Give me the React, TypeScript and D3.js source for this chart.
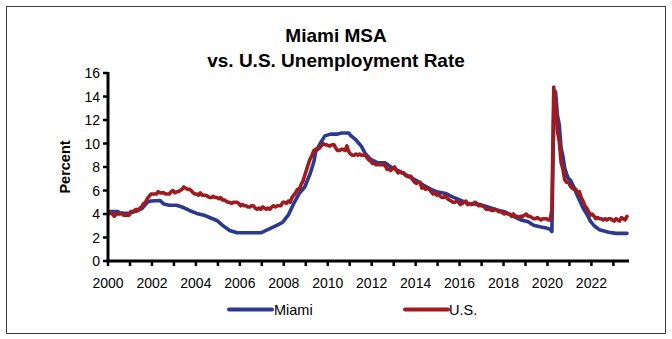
import React from 'react';
import * as d3 from 'd3';

const W = 672;
const H = 339;

const titleLines = ['Miami MSA', 'vs. U.S. Unemployment Rate'];
const yAxisTitle = 'Percent';
const yTickValues = [0, 2, 4, 6, 8, 10, 12, 14, 16];
const xLabelYears = [2000, 2002, 2004, 2006, 2008, 2010, 2012, 2014, 2016, 2018, 2020, 2022];
const seriesNames = ['Miami', 'U.S.'];
const seriesColors = ['#2b3990', '#9e1b20'];

// U.S. monthly rate, Jan 2000 .. Aug 2023
const usRates = [
  4.0, 4.1, 4.0, 3.8, 4.0, 4.0, 4.0, 4.1, 3.9, 3.9, 3.9, 3.9,
  4.2, 4.2, 4.3, 4.4, 4.3, 4.5, 4.6, 4.9, 5.0, 5.3, 5.5, 5.7,
  5.7, 5.7, 5.7, 5.9, 5.8, 5.8, 5.8, 5.7, 5.7, 5.7, 5.9, 6.0,
  5.8, 5.9, 5.9, 6.0, 6.1, 6.3, 6.2, 6.1, 6.1, 6.0, 5.8, 5.7,
  5.7, 5.6, 5.8, 5.6, 5.6, 5.6, 5.5, 5.4, 5.4, 5.5, 5.4, 5.4,
  5.3, 5.4, 5.2, 5.2, 5.1, 5.0, 5.0, 4.9, 5.0, 5.0, 5.0, 4.9,
  4.7, 4.8, 4.7, 4.7, 4.6, 4.6, 4.7, 4.7, 4.5, 4.4, 4.5, 4.4,
  4.6, 4.5, 4.4, 4.5, 4.4, 4.6, 4.7, 4.6, 4.7, 4.7, 4.7, 5.0,
  5.0, 4.9, 5.1, 5.0, 5.4, 5.6, 5.8, 6.1, 6.1, 6.5, 6.8, 7.3,
  7.8, 8.3, 8.7, 9.0, 9.4, 9.5, 9.5, 9.6, 9.8, 10.0, 9.9, 9.9,
  9.8, 9.8, 9.9, 9.9, 9.6, 9.4, 9.4, 9.5, 9.5, 9.4, 9.8, 9.3,
  9.1, 9.0, 9.0, 9.1, 9.0, 9.1, 9.0, 9.0, 9.0, 8.8, 8.6, 8.5,
  8.3, 8.3, 8.2, 8.2, 8.2, 8.2, 8.2, 8.1, 7.8, 7.8, 7.7, 7.9,
  8.0, 7.7, 7.5, 7.6, 7.5, 7.5, 7.3, 7.2, 7.2, 7.2, 6.9, 6.7,
  6.6, 6.7, 6.7, 6.2, 6.3, 6.1, 6.2, 6.1, 5.9, 5.7, 5.8, 5.6,
  5.7, 5.5, 5.4, 5.4, 5.6, 5.3, 5.2, 5.1, 5.0, 5.0, 5.1, 5.0,
  4.8, 4.9, 5.0, 5.1, 4.8, 4.9, 4.8, 4.9, 5.0, 4.9, 4.7, 4.7,
  4.7, 4.6, 4.4, 4.4, 4.4, 4.3, 4.3, 4.4, 4.3, 4.2, 4.2, 4.1,
  4.0, 4.1, 4.0, 4.0, 3.8, 4.0, 3.8, 3.8, 3.7, 3.8, 3.8, 3.9,
  4.0, 3.8, 3.8, 3.7, 3.6, 3.6, 3.7, 3.6, 3.5, 3.6, 3.6, 3.6,
  3.5, 3.5, 4.4, 14.8, 13.2, 11.0, 10.2, 8.4, 7.8, 6.9, 6.7, 6.7,
  6.4, 6.2, 6.1, 6.1, 5.8, 5.9, 5.4, 5.1, 4.7, 4.5, 4.2, 3.9,
  4.0, 3.8, 3.6, 3.7, 3.6, 3.6, 3.5, 3.6, 3.5, 3.6, 3.6, 3.5,
  3.4, 3.6, 3.5, 3.4, 3.7, 3.6, 3.5, 3.8,
];

// Miami MSA rate
const miamiPoints: [string, number][] = [
  ['2000-01', 4.2], ['2000-06', 4.2], ['2000-07', 4.05], ['2000-12', 4.05],
  ['2001-01', 4.1], ['2001-05', 4.3], ['2001-07', 4.45], ['2001-10', 5.0],
  ['2001-12', 5.1], ['2002-05', 5.15], ['2002-07', 4.85], ['2002-10', 4.75],
  ['2003-02', 4.75], ['2003-05', 4.6], ['2003-09', 4.3], ['2004-01', 4.05],
  ['2004-05', 3.9], ['2004-08', 3.7], ['2004-12', 3.45], ['2005-03', 3.05],
  ['2005-07', 2.6], ['2005-11', 2.4], ['2006-12', 2.4], ['2007-02', 2.55],
  ['2007-05', 2.75], ['2007-09', 3.05], ['2007-12', 3.3], ['2008-03', 3.9],
  ['2008-06', 4.9], ['2008-09', 5.75], ['2008-12', 6.3], ['2009-03', 7.45],
  ['2009-05', 8.45], ['2009-06', 9.3], ['2009-09', 10.15], ['2009-11', 10.65],
  ['2010-02', 10.8], ['2010-06', 10.8], ['2010-08', 10.9], ['2010-12', 10.9],
  ['2011-01', 10.7], ['2011-04', 10.3], ['2011-07', 9.75], ['2011-09', 9.15],
  ['2011-12', 8.65], ['2012-04', 8.35], ['2012-08', 8.35], ['2012-11', 8.0],
  ['2013-03', 7.7], ['2013-06', 7.45], ['2013-10', 7.1], ['2014-02', 6.75],
  ['2014-05', 6.45], ['2014-09', 6.1], ['2014-12', 5.9], ['2015-05', 5.75],
  ['2015-08', 5.5], ['2015-12', 5.25], ['2016-05', 4.9], ['2016-12', 4.8],
  ['2017-04', 4.6], ['2017-09', 4.35], ['2018-01', 4.2], ['2018-06', 3.8],
  ['2018-10', 3.5], ['2019-02', 3.35], ['2019-05', 3.05], ['2019-09', 2.9],
  ['2019-12', 2.8], ['2020-02', 2.7], ['2020-03', 2.5], ['2020-04', 12.8],
  ['2020-05', 14.4], ['2020-06', 12.4], ['2020-07', 11.6], ['2020-08', 9.6],
  ['2020-09', 8.9], ['2020-10', 7.9], ['2020-11', 7.4], ['2020-12', 7.0],
  ['2021-01', 6.9], ['2021-03', 6.3], ['2021-04', 5.9], ['2021-06', 5.2],
  ['2021-08', 4.5], ['2021-10', 4.0], ['2021-12', 3.4], ['2022-02', 3.0],
  ['2022-05', 2.65], ['2022-10', 2.45], ['2023-02', 2.35], ['2023-08', 2.35],
];

type Pt = { date: Date; value: number };

const FONT = '"Liberation Sans", Arial, Helvetica, sans-serif';

export default function App() {
  const x = d3
    .scaleTime()
    .domain([new Date(2000, 0, 1), new Date(2023, 8, 1)])
    .range([108, 628]);
  const y = d3.scaleLinear().domain([0, 16]).range([261, 73]);

  const parse = d3.timeParse('%Y-%m');
  const start = new Date(2000, 0, 1);
  const usData: Pt[] = usRates.map((v, i) => ({
    date: d3.timeDay.offset(d3.timeMonth.offset(start, i), 14),
    value: v,
  }));
  const miamiData: Pt[] = miamiPoints.map(([d, v]) => ({
    date: d3.timeDay.offset(parse(d) as Date, 14),
    value: v,
  }));

  const line = d3
    .line<Pt>()
    .x((d) => x(d.date))
    .y((d) => y(d.value));

  const yearTicks = d3.timeYear.range(new Date(2000, 0, 1), new Date(2024, 0, 1));
  const [x0, x1] = x.range();
  const [y0, y1] = y.range();

  const legendItems = [
    { name: seriesNames[0], color: seriesColors[0], lx: 229, tx: 274 },
    { name: seriesNames[1], color: seriesColors[1], lx: 405, tx: 449 },
  ];

  return (
    <svg
      width={W}
      height={H}
      style={{ position: 'absolute', left: 0, top: 0, background: '#fff' }}
      fontFamily={FONT}
    >
      <rect x={0} y={0} width={W} height={H} fill="#fff" />
      <rect x={6.5} y={6.5} width={659} height={327} fill="none" stroke="#3a3a3a" strokeWidth={1} />

      {titleLines.map((t, i) => (
        <text
          key={t}
          x={336}
          y={42 + i * 25}
          textAnchor="middle"
          fontSize={19}
          fontWeight="bold"
          fill="#000"
        >
          {t}
        </text>
      ))}

      {/* y axis title */}
      <text
        transform={`translate(70,${(y0 + y1) / 2}) rotate(-90)`}
        textAnchor="middle"
        fontSize={14.5}
        fontWeight="bold"
      >
        {yAxisTitle}
      </text>

      {/* y ticks & labels */}
      {yTickValues.map((v) => (
        <g key={v}>
          <line x1={x0 - 5} x2={x0} y1={y(v)} y2={y(v)} stroke="#000" strokeWidth={2.5} />
          <text x={100} y={y(v) + 5} textAnchor="end" fontSize={14}>
            {v}
          </text>
        </g>
      ))}

      {/* x ticks */}
      {yearTicks.map((d) => (
        <line
          key={d.getFullYear()}
          x1={x(d)}
          x2={x(d)}
          y1={y0}
          y2={y0 + 5}
          stroke="#000"
          strokeWidth={2.5}
        />
      ))}
      {xLabelYears.map((yr) => (
        <text key={yr} x={x(new Date(yr, 0, 1))} y={288} textAnchor="middle" fontSize={14}>
          {yr}
        </text>
      ))}

      {/* data lines */}
      <path
        d={line(miamiData) || ''}
        fill="none"
        stroke={seriesColors[0]}
        strokeWidth={3.6}
        strokeLinejoin="round"
        strokeLinecap="round"
      />
      <path
        d={line(usData) || ''}
        fill="none"
        stroke={seriesColors[1]}
        strokeWidth={3.6}
        strokeLinejoin="round"
        strokeLinecap="round"
      />

      {/* axes */}
      <line x1={x0} x2={x0} y1={y1 - 1} y2={y0 + 1.5} stroke="#000" strokeWidth={3} />
      <line x1={x0 - 1.5} x2={x1 + 1} y1={y0} y2={y0} stroke="#000" strokeWidth={3} />

      {/* legend */}
      {legendItems.map((it) => (
        <g key={it.name}>
          <line
            x1={it.lx}
            x2={it.lx + 43}
            y1={309.5}
            y2={309.5}
            stroke={it.color}
            strokeWidth={4}
            strokeLinecap="round"
          />
          <text x={it.tx} y={315} fontSize={14.5}>
            {it.name}
          </text>
        </g>
      ))}
    </svg>
  );
}
